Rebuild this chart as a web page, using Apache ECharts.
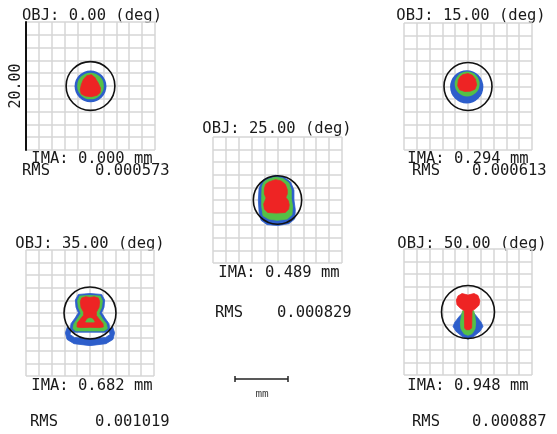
<!DOCTYPE html>
<html>
<head>
<meta charset="utf-8">
<script src="https://cdn.jsdelivr.net/npm/echarts@6/dist/echarts.min.js"></script>
<style>
  html, body { margin: 0; padding: 0; background: #fff; }
  #chart { width: 557px; height: 434px; }
</style>
</head>
<body>
<div id="chart"></div>
<script>
// field labels
var fieldAngles = ['0.00', '15.00', '25.00', '35.00', '50.00'];
var imaHeights = ['0.000', '0.294', '0.489', '0.682', '0.948'];
var rmsRadius = ['0.000573', '0.000613', '0.000829', '0.001019', '0.000887'];
// airy disk radius, same units as the box (box = 20.00)
var airyRadius = [3.78, 3.75, 3.75, 4.06, 4.14];

// spot outlines: [cx, cy, r] for round blobs, list of [x, y] for outlines
var f0Blue = [[0, -0.05, 2.47]];
var f0Green = [[0, 0, 2.06]];
var f0Red = [[[-0.55, 1.61], [0.13, 1.77], [0.65, 1.35], [1.17, 0.52], [1.54, -0.31], [1.48, -1.04],
  [1.02, -1.46], [0.13, -1.67], [-0.81, -1.56], [-1.43, -1.25], [-1.59, -0.63], [-1.43, 0.21], [-1.07, 1.09]]];

var f1Blue = [[-0.2, -0.05, 2.6]];
var f1Green = [[-0.13, 0.39, 1.95]];
var f1Red = [[[-0.78, 1.88], [0, 2.03], [0.68, 1.77], [1.15, 1.15], [1.35, 0.26], [1.09, -0.42],
  [0.36, -0.73], [-0.52, -0.78], [-1.3, -0.52], [-1.61, 0.1], [-1.51, 1.04], [-1.2, 1.56]]];

var f2Blue = [[[-1.88, 3.39], [-0.31, 3.91], [0.99, 3.65], [2.03, 2.86], [2.55, 1.56], [2.55, 0],
  [2.76, -1.56], [2.66, -3.02], [1.77, -3.75], [0.05, -4.06], [-1.61, -3.91], [-2.55, -3.23],
  [-2.86, -1.82], [-2.97, 0], [-2.86, 1.82], [-2.5, 2.86]]];
var f2Green = [[[-1.61, 3.23], [-0.31, 3.65], [0.89, 3.39], [1.77, 2.71], [2.14, 1.56], [2.14, 0.26],
  [2.34, -1.04], [2.24, -2.34], [1.51, -3.02], [-0.05, -3.23], [-1.35, -3.02], [-2.24, -2.5],
  [-2.45, -1.04], [-2.45, 0.52], [-2.4, 2.08], [-2.14, 2.81]]];
var f2Red = [[[-1.35, 2.86], [-0.31, 3.23], [0.57, 3.02], [1.2, 2.5], [1.51, 1.67], [1.51, 0.94],
  [1.3, 0.42], [1.67, -0.1], [1.82, -0.78], [1.72, -1.46], [1.2, -1.98], [-0.16, -2.08],
  [-1.51, -1.98], [-2.03, -1.46], [-2.14, -0.63], [-1.77, 0.31], [-2.03, 0.94], [-2.03, 1.82], [-1.82, 2.5]]];

var f3Blue = [
  [[-1.82, 2.94], [0, 3.1], [1.82, 2.94], [2.29, 2.06], [2.19, 0.91], [1.82, 0.03], [2.34, -0.81],
    [2.97, -1.69], [3.07, -2.53], [2.45, -3.05], [0, -3.05], [-2.45, -3.05], [-3.07, -2.53],
    [-2.97, -1.69], [-2.34, -0.81], [-1.82, 0.03], [-2.19, 0.91], [-2.29, 2.06]],
  [[-3.54, -2.21], [-3.85, -3.15], [-3.59, -4.19], [-2.5, -4.87], [0, -5.18], [2.5, -4.87],
    [3.59, -4.19], [3.85, -3.15], [3.54, -2.21], [2.97, -2.73], [3.13, -3.41], [2.45, -3.88],
    [0, -4.09], [-2.45, -3.88], [-3.13, -3.41], [-2.97, -2.73]]
];
var f3Green = [[[-1.61, 2.68], [0, 2.79], [1.61, 2.68], [1.93, 1.95], [1.82, 0.91], [1.41, -0.03],
  [1.93, -0.91], [2.55, -1.69], [2.71, -2.47], [2.19, -2.84], [0, -2.84], [-2.24, -2.84],
  [-2.66, -2.47], [-2.5, -1.69], [-1.93, -0.86], [-1.41, -0.03], [-1.82, 0.91], [-1.93, 1.95]]];
var f3Red = [[[-1.3, 2.37], [-0.68, 2.58], [0, 2.47], [0.68, 2.58], [1.3, 2.37], [1.51, 1.85],
  [1.41, 0.91], [0.99, 0.13], [0.99, -0.39], [1.51, -1.07], [2.03, -1.69], [2.08, -2.21],
  [1.41, -2.32], [0, -2.27], [-1.41, -2.32], [-2.03, -2.21], [-1.98, -1.59], [-1.46, -0.91],
  [-0.99, -0.34], [-0.99, 0.13], [-1.41, 0.91], [-1.51, 1.85]]];
var f3Core = [[[-0.68, -1.43], [-0.42, -0.96], [0, -0.81], [0.42, -0.96], [0.68, -1.43]]];

var f4Blue = [[[-0.83, -0.1], [-1.46, -0.83], [-2.08, -1.67], [-2.34, -2.29], [-1.88, -3.07],
  [-0.94, -3.85], [0, -4.32], [0.94, -3.85], [1.88, -3.07], [2.34, -2.29], [2.08, -1.67],
  [1.46, -0.83], [0.89, -0.1]]];
var f4Green = [[[-0.83, 0.21], [0.89, 0.21], [1.09, -0.73], [1.2, -1.77], [1.09, -2.71],
  [0.63, -3.44], [0, -3.7], [-0.63, -3.44], [-1.09, -2.71], [-1.2, -1.77], [-1.04, -0.73]]];
var f4Red = [[[-1.56, 2.55], [-0.94, 2.92], [-0.42, 2.8], [0, 2.68], [0.42, 2.8], [0.94, 2.92],
  [1.56, 2.62], [1.85, 1.77], [1.72, 1.09], [1.2, 0.55], [0.63, 0.18], [0.57, -2.55], [0.21, -2.81],
  [-0.31, -2.81], [-0.52, -2.55], [-0.57, 0.18], [-1.2, 0.6], [-1.72, 1.15], [-1.82, 1.9]]];

var BLUE = '#2d5ecb', GREEN = '#55c046', RED = '#ee2424';
var FONT = '15.5px "DejaVu Sans Mono", monospace';

var layers = [
  [[f0Blue, BLUE], [f0Green, GREEN], [f0Red, RED]],
  [[f1Blue, BLUE], [f1Green, GREEN], [f1Red, RED]],
  [[f2Blue, BLUE], [f2Green, GREEN], [f2Red, RED]],
  [[f3Blue, BLUE], [f3Green, GREEN], [f3Red, RED], [f3Core, GREEN]],
  [[f4Blue, BLUE], [f4Green, GREEN], [f4Red, RED]]
];

// panel boxes [left, top, width, height]
var boxes = [[26, 22, 129, 128], [404, 23, 128, 127], [213, 137, 129, 126], [26, 250, 128, 126], [404, 249, 128, 126]];
// text anchors: title centre, ima centre, rms label x/y, rms value x
var titlePos = [[92, 16], [471, 16], [277, 129], [90, 244], [472, 244]];
var imaPos = [[92, 159], [468, 159], [279, 273], [92, 386], [468, 386]];
var rmsPos = [[22, 171, 95], [412, 171, 472], [215, 313, 277], [30, 422, 95], [412, 422, 472]];

var myChart = echarts.init(document.getElementById('chart'));

var grids = [], xAxes = [], yAxes = [], series = [], graphics = [];

function spotSeries(gi, shapes, color, z) {
  return {
    type: 'custom',
    xAxisIndex: gi,
    yAxisIndex: gi,
    z: z,
    silent: true,
    data: shapes.map(function (s) { return typeof s[0] === 'number' ? [s[0], s[1]] : s[0]; }),
    renderItem: function (params, api) {
      var s = shapes[params.dataIndex];
      if (typeof s[0] === 'number') {
        var c = api.coord([s[0], s[1]]);
        return { type: 'circle', shape: { cx: c[0], cy: c[1], r: api.size([s[2], 0])[0] }, style: { fill: color } };
      }
      return {
        type: 'polygon',
        shape: { points: s.map(function (p) { return api.coord(p); }) },
        style: { fill: color, stroke: color, lineWidth: 0.8, lineJoin: 'round' }
      };
    }
  };
}

boxes.forEach(function (b, i) {
  grids.push({ left: b[0], top: b[1], width: b[2], height: b[3] });
  var ax = {
    gridIndex: i,
    type: 'value',
    min: -10,
    max: 10,
    interval: 2,
    axisLine: { show: false },
    axisTick: { show: false },
    axisLabel: { show: false },
    splitLine: { lineStyle: { color: '#d6d6d6', width: 1.5 } }
  };
  xAxes.push(ax);
  var ay = echarts.util.clone(ax);
  if (i === 0) {
    // scale bar on first box
    ay.axisLine = { show: true, onZero: false, lineStyle: { color: '#111', width: 2 } };
    ay.name = '20.00';
    ay.nameLocation = 'middle';
    ay.nameGap = 2;
    ay.nameTextStyle = { fontFamily: 'DejaVu Sans Mono', fontSize: 15, color: '#1a1a1a' };
  }
  yAxes.push(ay);

  layers[i].forEach(function (l, k) {
    series.push(spotSeries(i, l[0], l[1], 2 + k));
  });
  series.push({
    type: 'custom',
    xAxisIndex: i,
    yAxisIndex: i,
    z: 10,
    silent: true,
    data: [[0, 0, airyRadius[i]]],
    renderItem: function (params, api) {
      var c = api.coord([api.value(0), api.value(1)]);
      return {
        type: 'circle',
        shape: { cx: c[0], cy: c[1], r: api.size([api.value(2), 0])[0] },
        style: { fill: null, stroke: '#111', lineWidth: 1.6 }
      };
    }
  });

  graphics.push(
    { type: 'text', x: titlePos[i][0], y: titlePos[i][1], style: { text: 'OBJ: ' + fieldAngles[i] + ' (deg)', font: FONT, fill: '#1a1a1a', align: 'center', verticalAlign: 'middle' } },
    { type: 'text', x: imaPos[i][0], y: imaPos[i][1], style: { text: 'IMA: ' + imaHeights[i] + ' mm', font: FONT, fill: '#1a1a1a', align: 'center', verticalAlign: 'middle' } },
    { type: 'text', x: rmsPos[i][0], y: rmsPos[i][1], style: { text: 'RMS', font: FONT, fill: '#1a1a1a', align: 'left', verticalAlign: 'middle' } },
    { type: 'text', x: rmsPos[i][2], y: rmsPos[i][1], style: { text: rmsRadius[i], font: FONT, fill: '#1a1a1a', align: 'left', verticalAlign: 'middle' } }
  );
});

// mm scale bar
graphics.push(
  { type: 'line', shape: { x1: 235, y1: 379, x2: 288, y2: 379 }, style: { stroke: '#222', lineWidth: 1.5 } },
  { type: 'line', shape: { x1: 235, y1: 376, x2: 235, y2: 382 }, style: { stroke: '#222', lineWidth: 1.5 } },
  { type: 'line', shape: { x1: 288, y1: 376, x2: 288, y2: 382 }, style: { stroke: '#222', lineWidth: 1.5 } },
  { type: 'text', x: 262, y: 394, style: { text: 'mm', font: '11px "DejaVu Sans Mono", monospace', fill: '#444', align: 'center', verticalAlign: 'middle' } }
);

myChart.setOption({
  backgroundColor: '#fff',
  animation: false,
  grid: grids,
  xAxis: xAxes,
  yAxis: yAxes,
  series: series,
  graphic: graphics
});
</script>
</body>
</html>
